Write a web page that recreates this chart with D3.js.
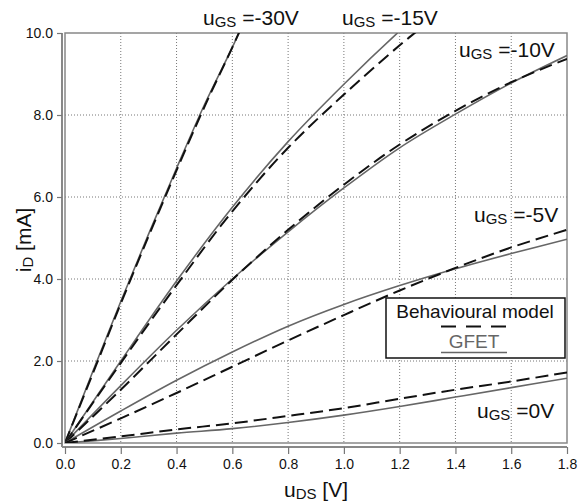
<!DOCTYPE html>
<meta charset="utf-8">
<style>
  body { margin: 0; background: #fff; }
  text { font-family: "Liberation Sans", Arial, sans-serif; }
</style>
<body>
<svg width="578" height="504"></svg>
<script src="https://cdn.jsdelivr.net/npm/d3@7"></script>
<script>
  // drain-source voltage grids (V)
  var vdsFull = [0, 0.2, 0.4, 0.6, 0.8, 1.0, 1.2, 1.4, 1.6, 1.8];
  var vds30 = [0, 0.1, 0.2, 0.3, 0.4, 0.5, 0.6, 0.64];
  var vds15 = [0, 0.2, 0.4, 0.6, 0.8, 1.0, 1.2, 1.3];

  // drain current (mA), GFET = solid gray, model = dashed black
  var id30Gfet  = [0, 1.75, 3.45, 5.1, 6.7, 8.25, 9.65, 10.25];
  var id30Model = [0, 1.7, 3.4, 5.05, 6.65, 8.2, 9.65, 10.25];
  var id15Gfet  = [0, 2.0, 3.95, 5.75, 7.35, 8.75, 10.05, 10.65];
  var id15Model = [0, 1.95, 3.85, 5.65, 7.2, 8.5, 9.7, 10.25];
  var id10Gfet  = [0, 1.4, 2.75, 4.0, 5.15, 6.22, 7.2, 8.02, 8.78, 9.45];
  var id10Model = [0, 1.3, 2.65, 3.98, 5.2, 6.3, 7.28, 8.1, 8.8, 9.37];
  var id5Gfet   = [0, 0.78, 1.53, 2.22, 2.85, 3.38, 3.84, 4.25, 4.62, 4.97];
  var id5Model  = [0, 0.6, 1.22, 1.86, 2.5, 3.12, 3.72, 4.27, 4.77, 5.2];
  var id0Gfet   = [0, 0.11, 0.24, 0.35, 0.5, 0.68, 0.89, 1.12, 1.35, 1.58];
  var id0Model  = [0, 0.16, 0.33, 0.48, 0.66, 0.85, 1.08, 1.3, 1.5, 1.72];

  var xTicks = [0, 0.2, 0.4, 0.6, 0.8, 1.0, 1.2, 1.4, 1.6, 1.8];
  var yTicks = [0, 2, 4, 6, 8, 10];

  var curveLabels = [
    {v: '-30V', x: 203, y: 25},
    {v: '-15V', x: 342, y: 25},
    {v: '-10V', x: 459, y: 57},
    {v: '-5V', x: 474, y: 222},
    {v: '0V', x: 477, y: 418}
  ];

  var svg = d3.select('svg');
  var pLeft = 65, pRight = 567, pTop = 33, pBottom = 443;

  var x = d3.scaleLinear().domain([0, 1.8]).range([pLeft, pRight]);
  var y = d3.scaleLinear().domain([0, 10]).range([pBottom, pTop]);

  svg.append('defs').append('clipPath').attr('id', 'plotclip')
    .append('rect')
    .attr('x', pLeft).attr('y', pTop)
    .attr('width', pRight - pLeft).attr('height', pBottom - pTop);

  // grid
  var grid = svg.append('g');
  grid.selectAll('.vg').data(xTicks.slice(1, -1)).enter().append('line')
    .attr('x1', function (d) { return x(d); })
    .attr('x2', function (d) { return x(d); })
    .attr('y1', pTop).attr('y2', pBottom)
    .attr('stroke', '#777').attr('stroke-width', 1).attr('stroke-dasharray', '1,2');
  grid.selectAll('.hg').data(yTicks.slice(1, -1)).enter().append('line')
    .attr('y1', function (d) { return y(d); })
    .attr('y2', function (d) { return y(d); })
    .attr('x1', pLeft).attr('x2', pRight)
    .attr('stroke', '#777').attr('stroke-width', 1).attr('stroke-dasharray', '1,2');

  // frame
  svg.append('rect')
    .attr('x', pLeft).attr('y', pTop)
    .attr('width', pRight - pLeft).attr('height', pBottom - pTop)
    .attr('fill', 'none').attr('stroke', '#888').attr('stroke-width', 1.5);

  // axes, offset a little from the frame
  var xAxis = d3.axisBottom(x).tickValues(xTicks).tickFormat(d3.format('.1f'))
    .tickSize(7).tickSizeOuter(0).tickPadding(5);
  var yAxis = d3.axisLeft(y).tickValues(yTicks).tickFormat(d3.format('.1f'))
    .tickSize(5).tickSizeOuter(0).tickPadding(4);

  var gx = svg.append('g').attr('transform', 'translate(0,' + (pBottom + 4) + ')').call(xAxis);
  var gy = svg.append('g').attr('transform', 'translate(' + (pLeft - 3) + ',0)').call(yAxis);
  [gx, gy].forEach(function (g) {
    g.select('.domain').attr('stroke', '#888').attr('stroke-width', 2);
    g.selectAll('.tick line').attr('stroke', '#777').attr('stroke-width', 1.2);
    g.selectAll('.tick text').attr('fill', '#111')
      .style('font-family', '"Liberation Sans", Arial, sans-serif').style('font-size', '14px');
  });
  gx.select('.domain').attr('d', 'M' + (pLeft - 3) + ',0H' + pRight);
  gy.select('.domain').attr('d', 'M0,' + pTop + 'V' + (pBottom + 4));

  // curves
  var line = d3.line()
    .x(function (d) { return x(d[0]); })
    .y(function (d) { return y(d[1]); })
    .curve(d3.curveCatmullRom.alpha(0.5));

  var series = [
    {xs: vds30, gfet: id30Gfet, model: id30Model},
    {xs: vds15, gfet: id15Gfet, model: id15Model},
    {xs: vdsFull, gfet: id10Gfet, model: id10Model},
    {xs: vdsFull, gfet: id5Gfet, model: id5Model},
    {xs: vdsFull, gfet: id0Gfet, model: id0Model}
  ];

  var curves = svg.append('g').attr('clip-path', 'url(#plotclip)');
  series.forEach(function (s) {
    curves.append('path')
      .datum(d3.zip(s.xs, s.gfet))
      .attr('d', line)
      .attr('fill', 'none').attr('stroke', '#666').attr('stroke-width', 1.6);
    curves.append('path')
      .datum(d3.zip(s.xs, s.model))
      .attr('d', line)
      .attr('fill', 'none').attr('stroke', '#111').attr('stroke-width', 2)
      .attr('stroke-dasharray', '13,6');
  });

  // curve labels
  curveLabels.forEach(function (c) {
    var t = svg.append('text').attr('x', c.x).attr('y', c.y)
      .attr('fill', '#111').style('font-size', '21px');
    t.append('tspan').text('u');
    t.append('tspan').attr('dy', 2).style('font-size', '15px').text('GS');
    t.append('tspan').attr('dy', -2).text(' =' + c.v);
  });

  // legend
  var lg = svg.append('g');
  lg.append('rect')
    .attr('x', 386).attr('y', 298).attr('width', 179).attr('height', 60)
    .attr('fill', '#fff').attr('stroke', '#111').attr('stroke-width', 1.5);
  lg.append('text').attr('x', 475).attr('y', 318).attr('text-anchor', 'middle')
    .attr('fill', '#111').style('font-size', '19px').text('Behavioural model');
  lg.append('line').attr('x1', 441).attr('x2', 506).attr('y1', 326.5).attr('y2', 326.5)
    .attr('stroke', '#111').attr('stroke-width', 2).attr('stroke-dasharray', '15,10');
  lg.append('text').attr('x', 474).attr('y', 348).attr('text-anchor', 'middle')
    .attr('fill', '#666').style('font-size', '19px').text('GFET');
  lg.append('line').attr('x1', 441).attr('x2', 507).attr('y1', 352.5).attr('y2', 352.5)
    .attr('stroke', '#666').attr('stroke-width', 1.6);

  // axis titles
  var xt = svg.append('text').attr('x', 316).attr('y', 497).attr('text-anchor', 'middle')
    .attr('fill', '#111').style('font-size', '21px');
  xt.append('tspan').text('u');
  xt.append('tspan').attr('dy', 2).style('font-size', '15px').text('DS');
  xt.append('tspan').attr('dy', -2).text(' [V]');

  var yt = svg.append('text').attr('transform', 'translate(31,240) rotate(-90)')
    .attr('text-anchor', 'middle').attr('fill', '#111').style('font-size', '21px');
  yt.append('tspan').text('i');
  yt.append('tspan').attr('dy', 2).style('font-size', '15px').text('D');
  yt.append('tspan').attr('dy', -2).text(' [mA]');
</script>
</body>
